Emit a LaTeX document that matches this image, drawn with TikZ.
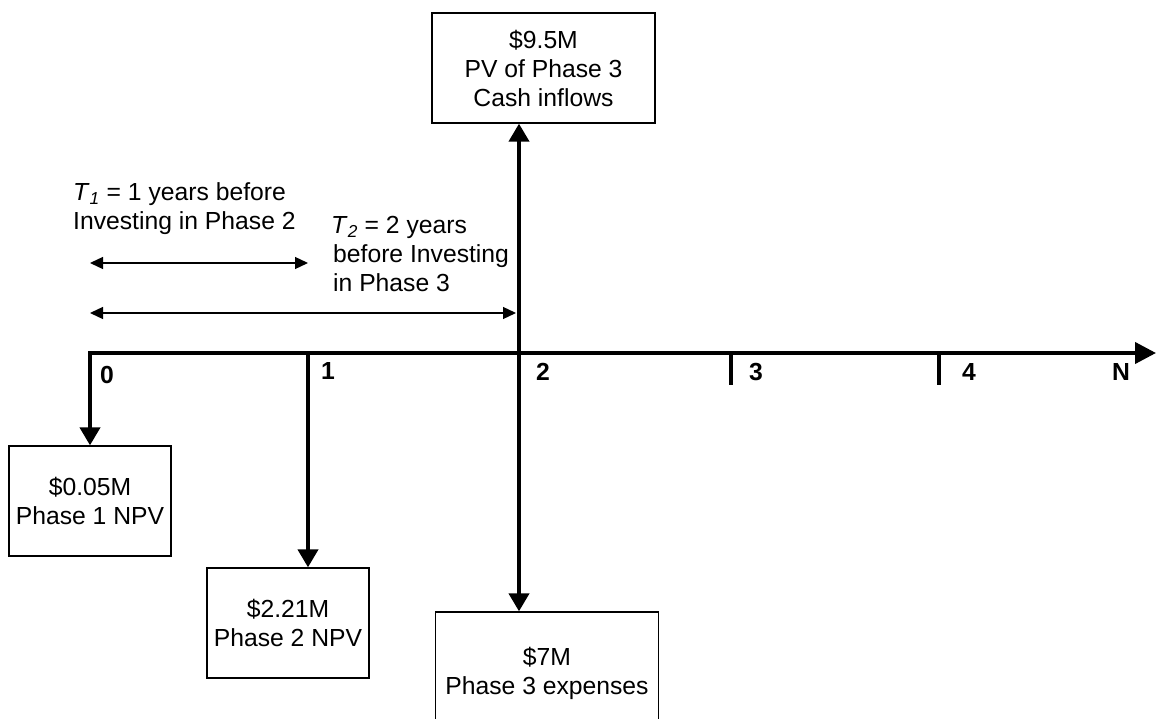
\documentclass[tikz,border=0pt]{standalone}
\usepackage{fontspec}
\setmainfont{Liberation Sans}
\usetikzlibrary{arrows.meta}

\begin{document}
\begin{tikzpicture}[x=1pt,y=-1pt,font=\fontsize{24.7}{29}\selectfont]
        \tikzstyle{box}=[draw,line width=1.3pt,inner sep=0pt,minimum width=162pt,minimum height=110pt,align=center]
        \tikzstyle{wide}=[box,minimum width=223pt]
        \tikzstyle{year}=[font=\fontsize{24.7}{29}\selectfont\bfseries,inner sep=0pt]
        \tikzstyle{flow}=[line width=4pt,-{Triangle[length=18pt,width=20pt]}]
        \tikzstyle{span}=[line width=1.3pt,{Triangle[length=13pt,width=12pt]}-{Triangle[length=13pt,width=12pt]}]
        \tikzstyle{note}=[anchor=west,align=left,inner sep=0pt]

        \useasboundingbox (0,0) rectangle (1159,719);

        \coordinate (Y0) at (90,353);
        \coordinate (Y1) at (308,353);
        \coordinate (Y2) at (519,353);
        \coordinate (Y3) at (731,353);
        \coordinate (Y4) at (939,353);
        \coordinate (YN) at (1156,353);

        \node[box]  (B1) at (90,501)    {\$0.05M\\Phase 1 NPV};
        \node[box]  (B2) at (288,623)   {\$2.21M\\Phase 2 NPV};
        \node[wide] (B3) at (543.5,68)  {\$9.5M\\PV of Phase 3\\Cash inflows};
        \node[wide,minimum height=122pt] (B4) at (547,673) {\$7M\\Phase 3 expenses}; % bottom cut off

        \node[year] (L0) at (107,375)  {0};
        \node[year] (L1) at (328,371)  {1};
        \node[year] (L2) at (543,372)  {2};
        \node[year] (L3) at (756,372)  {3};
        \node[year] (L4) at (969,372)  {4};
        \node[year] (LN) at (1121,372) {N};

        \node[note] (D1) at (73,209)  {\textit{T}\textsubscript{\textit{1}} = 1 years before\\Investing in Phase 2};
        \node[note] (D2) at (331,254) {\textit{T}\textsubscript{\textit{2}} = 2 years\\\hspace{2pt}before Investing\\\hspace{2pt}in Phase 3};

        \coordinate (S1a) at (90,263);
        \coordinate (S1b) at (308,263);
        \coordinate (S2a) at (90,313);
        \coordinate (S2b) at (516,313);

        % time line
        \draw[line width=4pt,line cap=rect,-{Triangle[length=21pt,width=21pt]}] (Y0) -- (YN);
        \draw[line width=4pt] (Y3) ++(0,2) -- ++(0,30);
        \draw[line width=4pt] (Y4) ++(0,2) -- ++(0,30);

        % cash flows
        \path[flow] (Y0) edge (Y0 |- B1.north)
                    (Y1) edge (Y1 |- B2.north)
                    (Y2) edge (Y2 |- B3.south)
                    (Y2) edge (Y2 |- B4.north);

        \path[span] (S1a) edge (S1b)
                    (S2a) edge (S2b);
\end{tikzpicture}
\end{document}
